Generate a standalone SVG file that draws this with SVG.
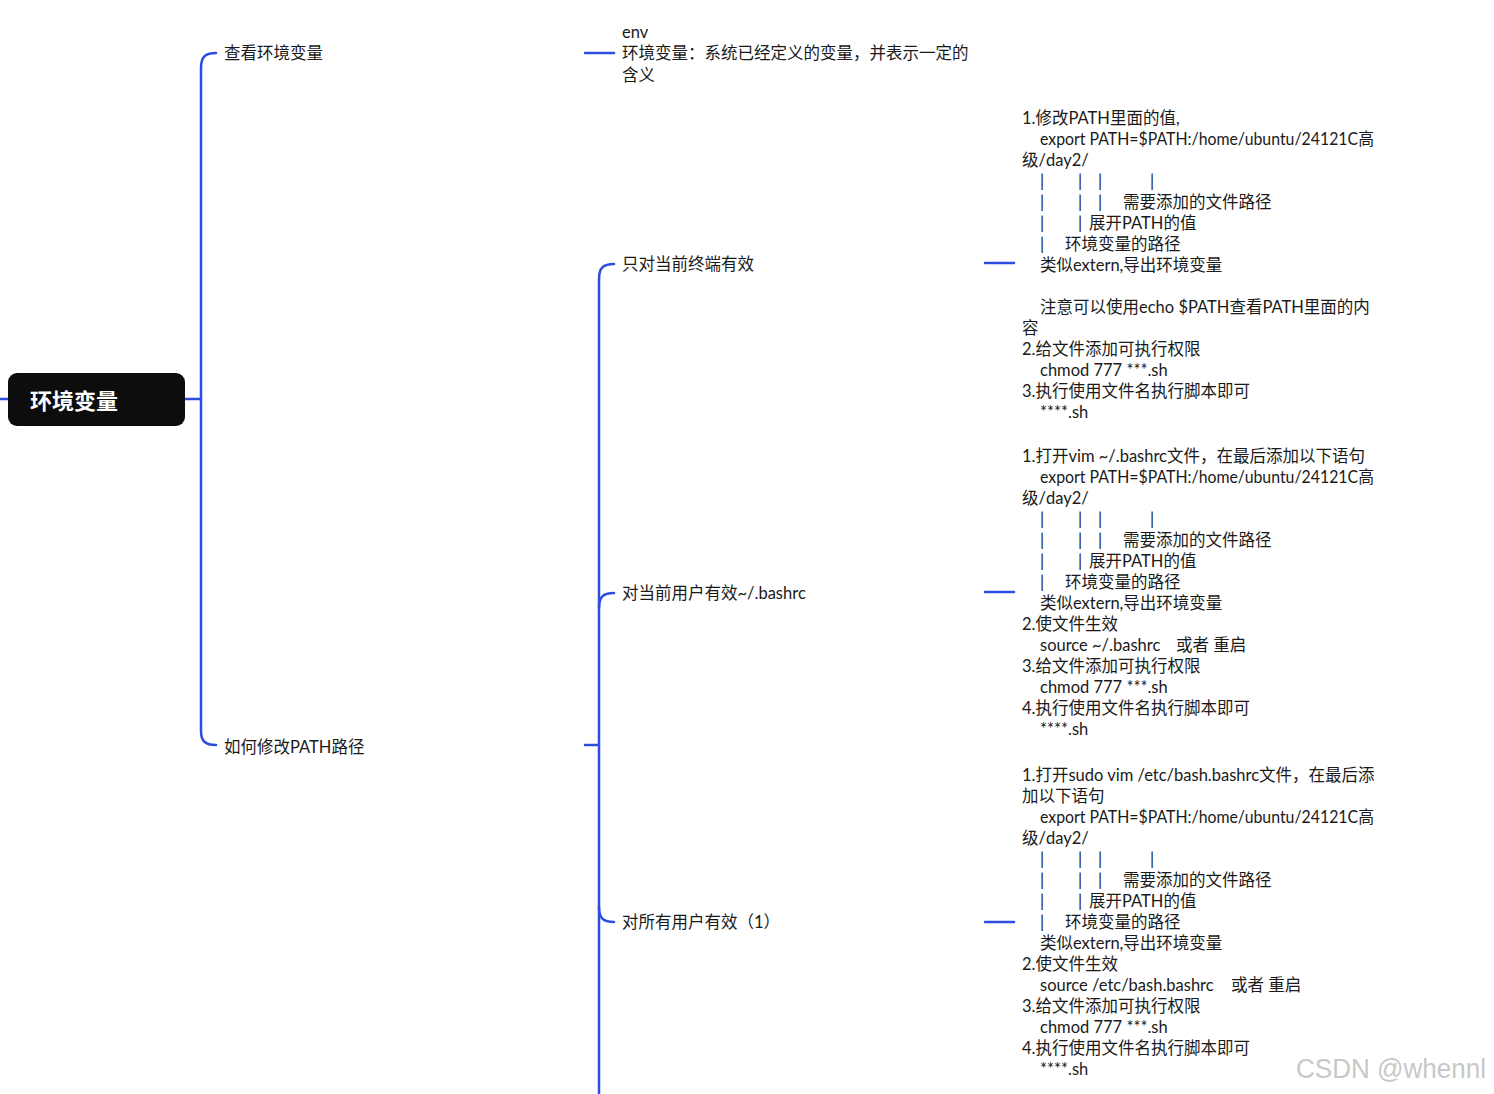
<svg xmlns="http://www.w3.org/2000/svg" width="1494" height="1094" viewBox="0 0 1494 1094">
<style>
.t{font-family:"Lato","Noto Sans CJK SC",sans-serif;font-size:16.5px;fill:#1a1a1a}
.c{fill:none;stroke:#2f4ce0;stroke-width:2.5;stroke-linecap:round}
.root{font-family:"Noto Sans CJK SC",sans-serif;font-size:22px;font-weight:bold;fill:#ffffff}
.wm{font-family:"Liberation Sans",sans-serif;font-size:27px;fill:#c8c8c8}
</style>
<rect width="1494" height="1094" fill="#ffffff"/>
<g id="connectors">
<path class="c" d="M0,399 L8,399"/>
<path class="c" d="M185,399 L201,399"/>
<path class="c" d="M216,53 C205,53 201,57 201,68 L201,731 C201,741 205,745 216,745"/>
<path class="c" d="M585,53 L614,53"/>
<path class="c" d="M585,745 L599,745"/>
<path class="c" d="M614,264 C603,264 599,268 599,279 L599,1094"/>
<path class="c" d="M614,593 C603,593 599,597 599,608"/>
<path class="c" d="M614,922 C603,922 599,918 599,907"/>
<path class="c" d="M985,263 L1014,263"/>
<path class="c" d="M985,592 L1014,592"/>
<path class="c" d="M985,922 L1014,922"/>
</g>
<g id="root">
<rect x="8" y="373" width="177" height="53" rx="9" fill="#0d0d0d"/>
<text class="root" x="30" y="409">环境变量</text>
</g>
<g id="n-view">
<text class="t" x="224" y="59">查看环境变量</text>
</g>
<g id="n-modify">
<text class="t" x="224" y="753">如何修改PATH路径</text>
</g>
<g id="n-env">
<text class="t" x="622" y="38">env</text>
<text class="t" x="622" y="59">环境变量：系统已经定义的变量，并表示一定的</text>
<text class="t" x="622" y="81">含义</text>
</g>
<g id="n-terminal">
<text class="t" x="622" y="270">只对当前终端有效</text>
</g>
<g id="n-user">
<text class="t" x="622" y="599">对当前用户有效~/.bashrc</text>
</g>
<g id="n-all">
<text class="t" x="622" y="928">对所有用户有效（1）</text>
</g>
<g id="n-terminal-detail">
<text class="t" x="1022" y="124">1.修改PATH里面的值,</text>
<text class="t" x="1040" y="145" textLength="334" lengthAdjust="spacingAndGlyphs">export PATH=$PATH:/home/ubuntu/24121C高</text>
<text class="t" x="1022" y="166">级/day2/</text>
<text class="t" y="187"><tspan x="1040">|</tspan><tspan x="1078">|</tspan><tspan x="1098">|</tspan><tspan x="1150">|</tspan></text>
<text class="t" y="208"><tspan x="1040">|</tspan><tspan x="1078">|</tspan><tspan x="1098">|</tspan><tspan x="1123">需要添加的文件路径</tspan></text>
<text class="t" y="229"><tspan x="1040">|</tspan><tspan x="1078">|</tspan><tspan x="1089">展开PATH的值</tspan></text>
<text class="t" y="250"><tspan x="1040">|</tspan><tspan x="1065">环境变量的路径</tspan></text>
<text class="t" x="1040" y="271">类似extern,导出环境变量</text>
<text class="t" x="1040" y="313">注意可以使用echo $PATH查看PATH里面的内</text>
<text class="t" x="1022" y="334">容</text>
<text class="t" x="1022" y="355">2.给文件添加可执行权限</text>
<text class="t" x="1040" y="376">chmod 777 ***.sh</text>
<text class="t" x="1022" y="397">3.执行使用文件名执行脚本即可</text>
<text class="t" x="1040" y="418">****.sh</text>
</g>
<g id="n-user-detail">
<text class="t" x="1022" y="462">1.打开vim ~/.bashrc文件，在最后添加以下语句</text>
<text class="t" x="1040" y="483" textLength="334" lengthAdjust="spacingAndGlyphs">export PATH=$PATH:/home/ubuntu/24121C高</text>
<text class="t" x="1022" y="504">级/day2/</text>
<text class="t" y="525"><tspan x="1040">|</tspan><tspan x="1078">|</tspan><tspan x="1098">|</tspan><tspan x="1150">|</tspan></text>
<text class="t" y="546"><tspan x="1040">|</tspan><tspan x="1078">|</tspan><tspan x="1098">|</tspan><tspan x="1123">需要添加的文件路径</tspan></text>
<text class="t" y="567"><tspan x="1040">|</tspan><tspan x="1078">|</tspan><tspan x="1089">展开PATH的值</tspan></text>
<text class="t" y="588"><tspan x="1040">|</tspan><tspan x="1065">环境变量的路径</tspan></text>
<text class="t" x="1040" y="609">类似extern,导出环境变量</text>
<text class="t" x="1022" y="630">2.使文件生效</text>
<text class="t" y="651"><tspan x="1040">source ~/.bashrc</tspan><tspan x="1176">或者 重启</tspan></text>
<text class="t" x="1022" y="672">3.给文件添加可执行权限</text>
<text class="t" x="1040" y="693">chmod 777 ***.sh</text>
<text class="t" x="1022" y="714">4.执行使用文件名执行脚本即可</text>
<text class="t" x="1040" y="735">****.sh</text>
</g>
<g id="n-all-detail">
<text class="t" x="1022" y="781">1.打开sudo vim /etc/bash.bashrc文件，在最后添</text>
<text class="t" x="1022" y="802">加以下语句</text>
<text class="t" x="1040" y="823" textLength="334" lengthAdjust="spacingAndGlyphs">export PATH=$PATH:/home/ubuntu/24121C高</text>
<text class="t" x="1022" y="844">级/day2/</text>
<text class="t" y="865"><tspan x="1040">|</tspan><tspan x="1078">|</tspan><tspan x="1098">|</tspan><tspan x="1150">|</tspan></text>
<text class="t" y="886"><tspan x="1040">|</tspan><tspan x="1078">|</tspan><tspan x="1098">|</tspan><tspan x="1123">需要添加的文件路径</tspan></text>
<text class="t" y="907"><tspan x="1040">|</tspan><tspan x="1078">|</tspan><tspan x="1089">展开PATH的值</tspan></text>
<text class="t" y="928"><tspan x="1040">|</tspan><tspan x="1065">环境变量的路径</tspan></text>
<text class="t" x="1040" y="949">类似extern,导出环境变量</text>
<text class="t" x="1022" y="970">2.使文件生效</text>
<text class="t" y="991"><tspan x="1040">source /etc/bash.bashrc</tspan><tspan x="1231">或者 重启</tspan></text>
<text class="t" x="1022" y="1012">3.给文件添加可执行权限</text>
<text class="t" x="1040" y="1033">chmod 777 ***.sh</text>
<text class="t" x="1022" y="1054">4.执行使用文件名执行脚本即可</text>
<text class="t" x="1040" y="1075">****.sh</text>
</g>
<text class="wm" x="1296" y="1078" textLength="190" lengthAdjust="spacingAndGlyphs">CSDN @whennl</text>
</svg>
